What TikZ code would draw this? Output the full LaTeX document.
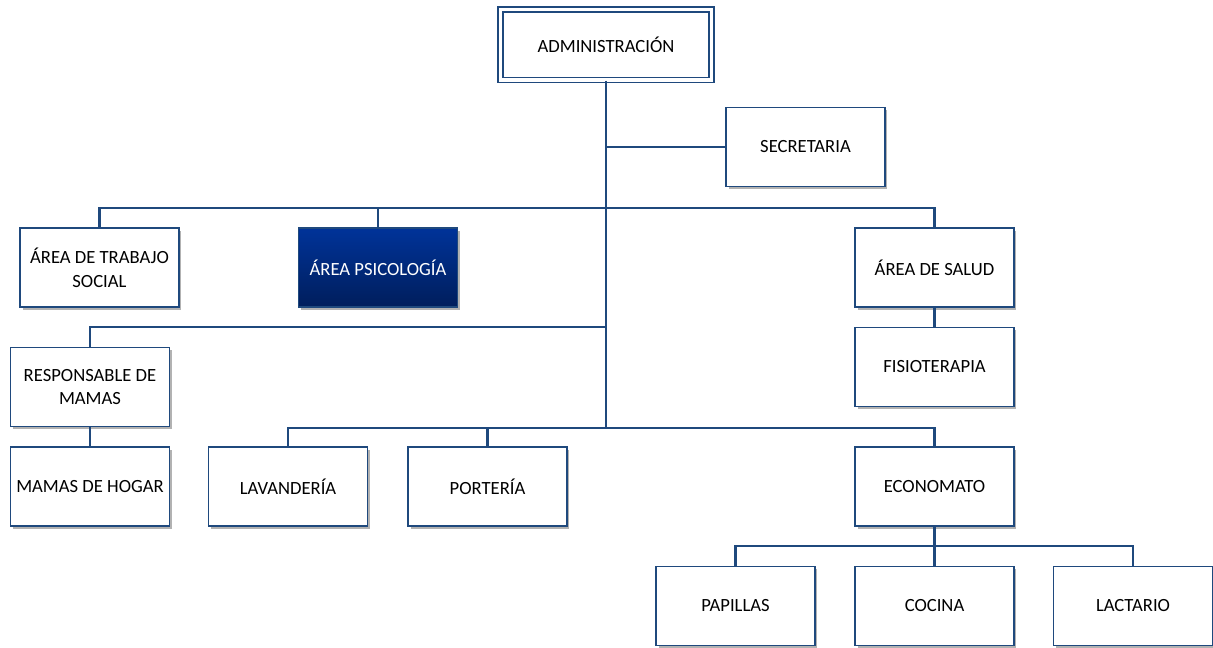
\documentclass[tikz,border=0pt]{standalone}
\usepackage{fontspec}
\setmainfont{Carlito}
\usetikzlibrary{shadows}

\definecolor{orgline}{RGB}{31,73,125}
\definecolor{psitop}{RGB}{0,51,153}
\definecolor{psibot}{RGB}{0,30,92}

\tikzset{
  unit/.style={draw=orgline, line width=0.035cm, fill=white,
    minimum width=3.18cm, minimum height=1.58cm, align=center,
    font=\fontsize{10.6}{13.6}\selectfont, inner sep=1pt,
    drop shadow={shadow xshift=0.05cm, shadow yshift=-0.05cm, fill=black, opacity=0.3}},
  link/.style={draw=orgline, line width=0.05cm}
}

\begin{document}
\begin{tikzpicture}[x=0.02cm, y=-0.02cm]
\useasboundingbox (0,0) rectangle (1213,647);

% Junctions on the trunk
\coordinate (bar1) at (606,208);
\coordinate (bar2) at (606,327);
\coordinate (bar3) at (606,428);
\coordinate (bar4) at (934.5,546);

% Top
\node[unit, draw=orgline, line width=0.03cm, double=white, double distance=0.07cm,
  minimum width=4.23cm, minimum height=1.41cm] (adm) at (606,44.5) {ADMINISTRACIÓN};
\node[unit] (sec) at (805.5,147) {SECRETARIA};

% Second row
\node[unit] (trabajo) at (99.5,267.5) {ÁREA DE TRABAJO\\SOCIAL};
\node[unit, draw=orgline, top color=psitop, bottom color=psibot, text=white] (psico) at (378,267.5) {ÁREA PSICOLOGÍA};
\node[unit] (salud) at (934.5,267.5) {ÁREA DE SALUD};
\node[unit] (fisio) at (934.5,367) {FISIOTERAPIA};

% Mamas
\node[unit] (resp) at (90,387) {RESPONSABLE DE\\MAMAS};
\node[unit] (hogar) at (90,486.5) {MAMAS DE HOGAR};

% Services
\node[unit] (lav) at (288,486.5) {LAVANDERÍA};
\node[unit] (port) at (487.5,486.5) {PORTERÍA};
\node[unit] (econ) at (934.5,486.5) {ECONOMATO};

% Economato
\node[unit] (pap) at (735.5,606) {PAPILLAS};
\node[unit] (coc) at (934.5,606) {COCINA};
\node[unit] (lac) at (1133,606) {LACTARIO};

% Lines
\draw[link] (adm.south) -- (bar3);
\draw[link] (sec.west) -- (adm.south |- sec.west);
\foreach \n in {trabajo,psico,salud} {
\draw[link] (\n.north) |- (bar1);
}
\draw[link] (resp.north) |- (bar2);
\foreach \n in {lav,port,econ} {
\draw[link] (\n.north) |- (bar3);
}
\draw[link] (salud.south) -- (fisio.north);
\draw[link] (resp.south) -- (hogar.north);
\draw[link] (econ.south) -- (coc.north);
\foreach \n in {pap,lac} {
\draw[link] (\n.north) |- (bar4);
}

\end{tikzpicture}
\end{document}
